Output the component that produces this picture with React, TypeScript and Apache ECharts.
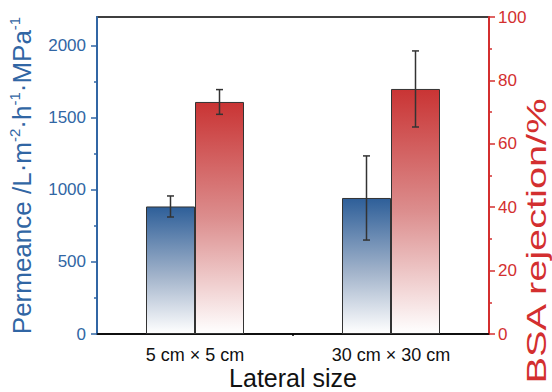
import React, { useEffect, useRef } from "react";
import * as echarts from "echarts";

const categories = ["5 cm × 5 cm", "30 cm × 30 cm"];
const permeance = [885, 944];
const permeanceErr = [73, 292];
const rejection = [73.2, 77.3];
const rejectionErr = [3.9, 12];
const leftTicks = [0, 500, 1000, 1500, 2000];
const leftMinorTicks = [250, 750, 1250, 1750];
const rightTicks = [0, 20, 40, 60, 80, 100];
const rightMinorTicks = [10, 30, 50, 70, 90];

const BLUE = "#3166a4";
const RED = "#d32f2f";
const FONT = "Liberation Sans, Arial, sans-serif";

export default function App() {
  const ref = useRef<HTMLDivElement>(null);
  useEffect(() => {
    if (!ref.current) return;
    const chart = echarts.init(ref.current, undefined, { renderer: "svg" });

    const errItem = (side: number) => (params: any, api: any) => {
      const x = api.value(0);
      const y = api.value(1);
      const e = api.value(2);
      const band = api.size([1, 0])[0];
      const off = side * band * 0.125;
      const top = api.coord([x, y + e]);
      const bot = api.coord([x, y - e]);
      const cx = top[0] + off;
      const cap = 3.5;
      const style = { stroke: "#333", lineWidth: 1.5 };
      return {
        type: "group",
        children: [
          { type: "line", shape: { x1: cx, y1: top[1], x2: cx, y2: bot[1] }, style },
          { type: "line", shape: { x1: cx - cap, y1: top[1], x2: cx + cap, y2: top[1] }, style },
          { type: "line", shape: { x1: cx - cap, y1: bot[1], x2: cx + cap, y2: bot[1] }, style },
        ],
      };
    };

    const plain = (v: number) => String(v);

    const option: any = {
      animation: false,
      backgroundColor: "#fff",
      grid: {
        left: 97,
        right: 63,
        top: 17,
        bottom: 58,
        outerBoundsMode: "none",
        containLabel: false,
        show: true,
        borderColor: "#000",
        borderWidth: 1.5,
        backgroundColor: "#fff",
      },
      graphic: [
        {
          type: "text",
          x: 536,
          y: 241,
          rotation: Math.PI / 2,
          scaleX: 1.42,
          style: {
            text: "BSA rejection/%",
            fontSize: 28,
            fontFamily: FONT,
            fill: RED,
            align: "center",
            verticalAlign: "middle",
          },
        },
      ],
      xAxis: [
        {
          type: "category",
          data: categories,
          axisLine: { lineStyle: { color: "#000", width: 1.5 } },
          axisTick: { alignWithLabel: true, length: 5, lineStyle: { color: "#000", width: 1.5 } },
          axisLabel: { fontSize: 18, color: "#111", margin: 12, fontFamily: FONT },
          name: "Lateral size",
          nameLocation: "middle",
          nameMoveOverlap: false,
          nameGap: 31,
          nameTextStyle: { fontSize: 25, lineHeight: 25, color: "#111", fontFamily: FONT },
        },
        {
          type: "value",
          min: 0,
          max: 2,
          position: "bottom",
          axisLine: { show: false },
          axisLabel: { show: false },
          splitLine: { show: false },
          axisTick: { show: true, customValues: [1], length: 2, lineStyle: { color: "#000", width: 1.5 } },
        },
      ],
      yAxis: [
        {
          type: "value",
          min: 0,
          max: 2200,
          interval: 500,
          position: "left",
          splitLine: { show: false },
          axisLine: { show: true, lineStyle: { color: BLUE, width: 2 } },
          axisTick: { show: true, length: 6, customValues: leftTicks, lineStyle: { color: BLUE, width: 1.5 } },
          axisLabel: { customValues: leftTicks, formatter: plain, fontSize: 17, color: BLUE, margin: 11, fontFamily: FONT },
          name: "{a|Permeance /L·m}{s|-2}{a|·h}{s|-1}{a|·MPa}{s|-1}",
          nameLocation: "middle",
          nameRotate: 90,
          nameGap: 60,
          nameTextStyle: {
            rich: {
              a: { fontSize: 26, color: BLUE, fontFamily: FONT, lineHeight: 30 },
              s: { fontSize: 15, color: BLUE, fontFamily: FONT, lineHeight: 20, verticalAlign: "top" },
            },
          },
        },
        {
          type: "value",
          min: 0,
          max: 100,
          interval: 20,
          position: "right",
          splitLine: { show: false },
          axisLine: { show: true, lineStyle: { color: RED, width: 2 } },
          axisTick: { show: true, length: 6, customValues: rightTicks, lineStyle: { color: RED, width: 1.5 } },
          axisLabel: { customValues: rightTicks, formatter: plain, fontSize: 17, color: RED, margin: 9, fontFamily: FONT },
        },
        {
          type: "value",
          min: 0,
          max: 2200,
          position: "left",
          splitLine: { show: false },
          axisLine: { show: false },
          axisLabel: { show: false },
          axisTick: { show: true, length: 3, customValues: leftMinorTicks, lineStyle: { color: BLUE, width: 1.5 } },
        },
        {
          type: "value",
          min: 0,
          max: 100,
          position: "right",
          splitLine: { show: false },
          axisLine: { show: false },
          axisLabel: { show: false },
          axisTick: { show: true, length: 3, customValues: rightMinorTicks, lineStyle: { color: RED, width: 1.5 } },
        },
      ],
      series: [
        {
          type: "bar",
          xAxisIndex: 0,
          yAxisIndex: 0,
          data: permeance,
          barWidth: "25%",
          barGap: "0%",
          itemStyle: {
            borderColor: "#333",
            borderWidth: 1,
            color: new echarts.graphic.LinearGradient(0, 0, 0, 1, [
              { offset: 0, color: "#2e5f99" },
              { offset: 0.55, color: "#a3b4cb" },
              { offset: 1, color: "#ffffff" },
            ]),
          },
        },
        {
          type: "bar",
          xAxisIndex: 0,
          yAxisIndex: 1,
          data: rejection,
          barWidth: "25%",
          barGap: "0%",
          itemStyle: {
            borderColor: "#333",
            borderWidth: 1,
            color: new echarts.graphic.LinearGradient(0, 0, 0, 1, [
              { offset: 0, color: "#c93434" },
              { offset: 0.5, color: "#dc8e8e" },
              { offset: 1, color: "#ffffff" },
            ]),
          },
        },
        {
          type: "custom",
          xAxisIndex: 0,
          yAxisIndex: 0,
          z: 10,
          renderItem: errItem(-1),
          data: permeance.map((v, i) => [i, v, permeanceErr[i]]),
        },
        {
          type: "custom",
          xAxisIndex: 0,
          yAxisIndex: 1,
          z: 10,
          renderItem: errItem(1),
          data: rejection.map((v, i) => [i, v, rejectionErr[i]]),
        },
      ],
    };
    chart.setOption(option);
    return () => chart.dispose();
  }, []);
  return <div ref={ref} style={{ position: "fixed", left: 0, top: 0, width: 552, height: 392 }} />;
}
